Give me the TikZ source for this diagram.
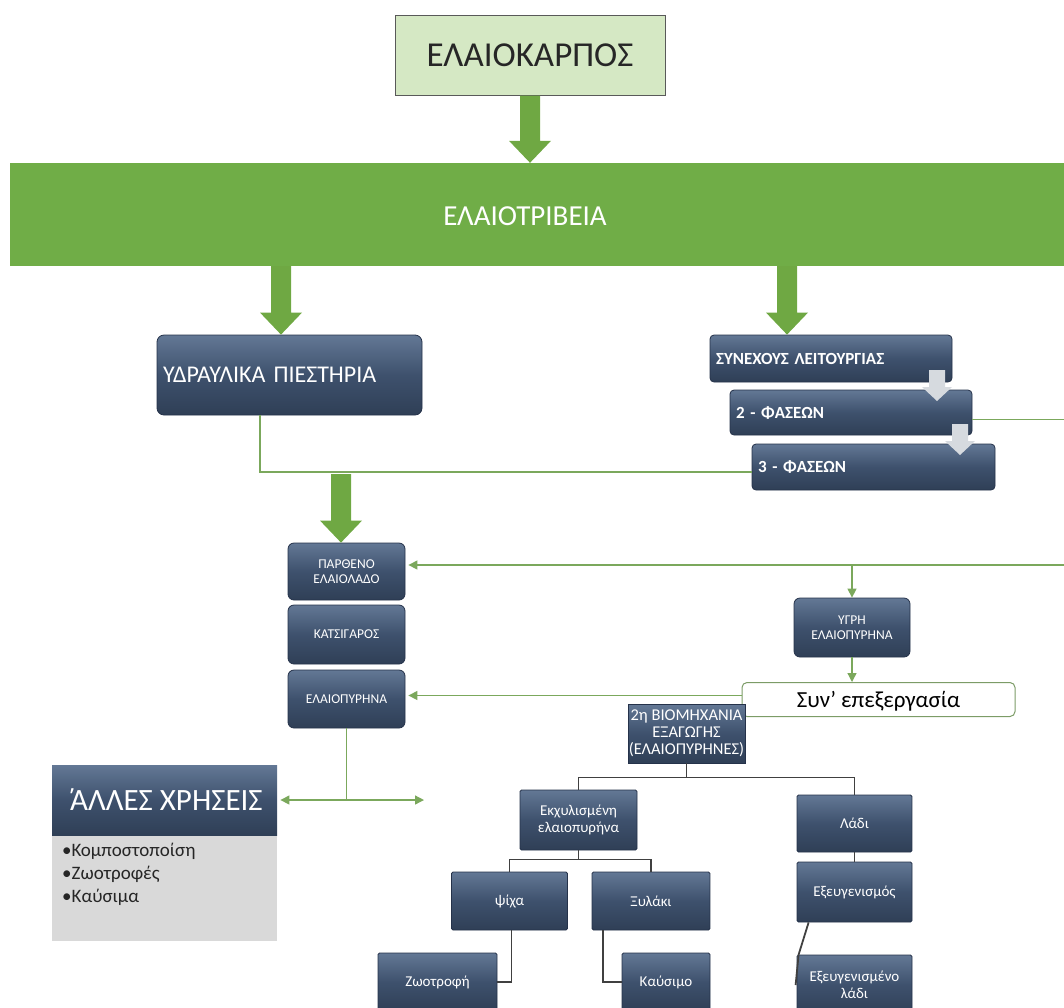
\documentclass[tikz,border=0pt]{standalone}
\usepackage{fontspec}
\setmainfont{Carlito}
\usetikzlibrary{arrows.meta,calc}
\definecolor{bandgreen}{HTML}{70AD47}
\definecolor{arrgreen}{HTML}{6FA843}
\definecolor{lgreen}{HTML}{D5E8C4}
\definecolor{lineg}{HTML}{7BA85C}
\definecolor{btop}{HTML}{637895}
\definecolor{bmid}{HTML}{3E516D}
\definecolor{bbot}{HTML}{2F3F56}
\definecolor{bdraw}{HTML}{25324A}
\definecolor{treeline}{HTML}{404040}
\definecolor{bodygray}{HTML}{D9D9D9}
\definecolor{garrow}{HTML}{D6DADF}
\newcommand\myfs[2]{\fontsize{#1}{#2}\selectfont}
% style, from, to, half shaft, half head, head length
\newcommand\blockarrow[6]{%
  \fill[#1] let \p1=(#2), \p2=(#3) in
   (\x1-#4,\y1) -- (\x1+#4,\y1) -- (\x1+#4,\y2+#6) -- (\x1+#5,\y2+#6) --
   (\x1,\y2) -- (\x1-#5,\y2+#6) -- (\x1-#4,\y2+#6) -- cycle;}
\tikzset{
 dbox/.style={draw=bdraw, line width=0.8pt, top color=btop, bottom color=bbot,
   middle color=bmid, text=white, align=center, inner sep=2pt, rounded corners=7pt},
 sbox/.style={dbox, rounded corners=1.5pt},
 gline/.style={draw=lineg, line width=1.3pt},
 garr/.style={gline, -{Triangle[length=9pt,width=9pt]}},
 tline/.style={draw=treeline, line width=1.8pt},
}
\begin{document}
\begin{tikzpicture}[x=1pt,y=-1pt]
\useasboundingbox (0,0) rectangle (1064,1007);

% top
\node[draw=black!65, line width=1pt, fill=lgreen, minimum width=270pt, minimum height=80pt,
  font=\myfs{35}{40}, text=black!85] (karpos) at (530,55) {ΕΛΑΙΟΚΑΡΠΟΣ};
\node[fill=bandgreen, minimum width=1064pt, minimum height=103pt, inner sep=0pt] (band) at (542,214.5) {};
\node[text=white, font=\myfs{29}{34}] (bandtxt) at (525,216) {ΕΛΑΙΟΤΡΙΒΕΙΑ};

% presses
\node[dbox, minimum height=80pt, text width=253pt, align=left, inner xsep=6pt,
  font=\myfs{24}{28}] (hyd) at (289.5,375) {ΥΔΡΑΥΛΙΚΑ ΠΙΕΣΤΗΡΙΑ};
\node[dbox, rounded corners=4pt, minimum height=47pt, text width=230pt, inner xsep=6pt,
  align=left, font=\bfseries\myfs{17}{20}] (syn) at (831,358.5) {ΣΥΝΕΧΟΥΣ ΛΕΙΤΟΥΡΓΙΑΣ};
\node[dbox, rounded corners=4pt, minimum height=45pt, text width=230pt, inner xsep=6pt,
  align=left, font=\bfseries\myfs{17}{20}] (f2) at (851,412.5) {2 - ΦΑΣΕΩΝ};
\node[dbox, rounded corners=4pt, minimum height=46pt, text width=231pt, inner xsep=6pt,
  align=left, font=\bfseries\myfs{17}{20}] (f3) at (873.5,467) {3 - ΦΑΣΕΩΝ};

% products
\node[dbox, rounded corners=6pt, minimum width=117pt, minimum height=57pt, font=\myfs{13.5}{15}] (pk) at (346.5,571.5) {ΠΑΡΘΕΝΟ\\ΕΛΑΙΟΛΑΔΟ};
\node[dbox, rounded corners=6pt, minimum width=117pt, minimum height=59pt, font=\myfs{13.5}{15}] (kat) at (346.5,634.5) {ΚΑΤΣΙΓΑΡΟΣ};
\node[dbox, rounded corners=6pt, minimum width=117pt, minimum height=58pt, font=\myfs{13.5}{15}] (elp) at (346.5,699) {ΕΛΑΙΟΠΥΡΗΝΑ};
\node[dbox, rounded corners=6pt, minimum width=116pt, minimum height=59pt, font=\myfs{13.5}{15}] (ygr) at (852,627.5) {ΥΓΡΗ\\ΕΛΑΙΟΠΥΡΗΝΑ};
\node[draw=lineg!70!gray, line width=1pt, fill=white, rounded corners=5pt, minimum width=273pt,
  minimum height=34pt, font=\myfs{23}{26}, inner sep=0pt, text height=15pt, text depth=0pt] (syn2) at (878.5,699.5) {Συν’ επεξεργασία};
\node[sbox, rounded corners=0pt, minimum width=117pt, minimum height=59pt, inner xsep=0pt,
  font=\myfs{16.5}{17}] (bio) at (686.5,733.5) {2η ΒΙΟΜΗΧΑΝΙΑ\\ΕΞΑΓΩΓΗΣ\\(ΕΛΑΙΟΠΥΡΗΝΕΣ)};

% other uses
\node[sbox, rounded corners=0pt, draw=none, minimum width=225pt, minimum height=70pt,
  font=\myfs{31}{36}] (allo) at (164.5,800) {\char"0384\kern-6pt ΑΛΛΕΣ ΧΡΗΣΕΙΣ};
\node[fill=bodygray, minimum width=225pt, minimum height=105pt, anchor=north, inner sep=0pt] (allob) at (allo.south) {};
\node[anchor=north west, align=left, font=\myfs{19}{23}, text=black!85, inner sep=0pt] (allot) at (62,843) {•Κομποστοποίση\\•Ζωοτροφές\\•Καύσιμα};

% tree boxes
\node[sbox, minimum width=117pt, minimum height=60pt, font=\myfs{15}{17}] (ekx) at (578.5,820) {Εκχυλισμένη\\ελαιοπυρήνα};
\node[sbox, minimum width=115pt, minimum height=57pt, font=\myfs{15}{17}] (ladi) at (854.5,823.5) {Λάδι};
\node[sbox, minimum width=116pt, minimum height=58pt, font=\myfs{15}{17}] (psixa) at (509.5,901) {ψίχα};
\node[sbox, minimum width=118pt, minimum height=58pt, font=\myfs{15}{17}] (ksy) at (651,901) {Ξυλάκι};
\node[sbox, minimum width=119pt, minimum height=58pt, font=\myfs{15}{17}] (zwo) at (437.5,982) {Ζωοτροφή};
\node[sbox, minimum width=88pt, minimum height=58pt, font=\myfs{15}{17}] (kaf) at (666,982) {Καύσιμο};
\node[sbox, minimum width=115pt, minimum height=60pt, font=\myfs{15}{17}] (exev) at (854.5,892) {Εξευγενισμός};
\node[sbox, minimum width=115pt, minimum height=60pt, font=\myfs{15}{17}] (exevl) at (854.5,985) {Εξευγενισμένο\\λάδι};

% helper coordinates
\coordinate (xa) at (281,0);
\coordinate (xb) at (787,0);
\coordinate (hx) at (260,0);
\coordinate (j) at (341,474);
\coordinate (r1) at (1075,565);
\coordinate (rend) at (424,800);
\coordinate (ga) at (937,370);
\coordinate (gb) at (960,424);

% big green arrows
\blockarrow{arrgreen}{karpos.south}{karpos.south |- band.north}{10pt}{21pt}{22pt}
\blockarrow{arrgreen}{band.south -| xa}{hyd.north -| xa}{10pt}{21pt}{22pt}
\blockarrow{arrgreen}{band.south -| xb}{syn.north -| xb}{10pt}{21pt}{22pt}
\blockarrow{arrgreen}{j}{pk.north -| j}{10pt}{21pt}{22pt}

% gray cascade arrows
\blockarrow{garrow}{ga}{$(ga)+(0,31)$}{8pt}{15pt}{14pt}
\blockarrow{garrow}{gb}{$(gb)+(0,31)$}{8pt}{15pt}{14pt}

% thin green connectors
\draw[gline] (hyd.south -| hx) |- ($(f3.west)+(0,5)$);
\draw[garr] ($(f2.east)+(0,7)$) -| (r1) -- ($(pk.east |- r1)+(3,0)$);
\draw[garr] (ygr.north |- r1) -- (ygr.north);
\draw[garr] (ygr.south) -- (ygr.south |- syn2.north);
\draw[garr] ($(syn2.west)+(0,-4)$) -- ($(elp.east |- syn2.west)+(3,-4)$);
\draw[gline] (elp.south) -- (elp.south |- allo.east) coordinate (jb);
\draw[garr] (jb) -- ($(allo.east)+(3,0)$);
\draw[garr] (jb) -- (rend);

% tree connectors
\draw[tline] (bio.south) -- ++(0,14) -| (ekx.north);
\draw[tline] (bio.south) -- ++(0,14) -| (ladi.north);
\draw[tline] (ekx.south) -- ++(0,9) -| (psixa.north);
\draw[tline] (ekx.south) -- ++(0,9) -| (ksy.north);
\draw[tline] ($(psixa.south)+(2,0)$) |- (zwo.east);
\draw[tline] ($(ksy.south)+(-48,0)$) |- (kaf.west);
\draw[tline] (ladi.south) -- (exev.north);
\draw[tline] ($(exev.south west)+(12,0)$) -- ($(exevl.north west)+(2,0)$) -- ($(exevl.west)+(-1,0)$);
\end{tikzpicture}
\end{document}
